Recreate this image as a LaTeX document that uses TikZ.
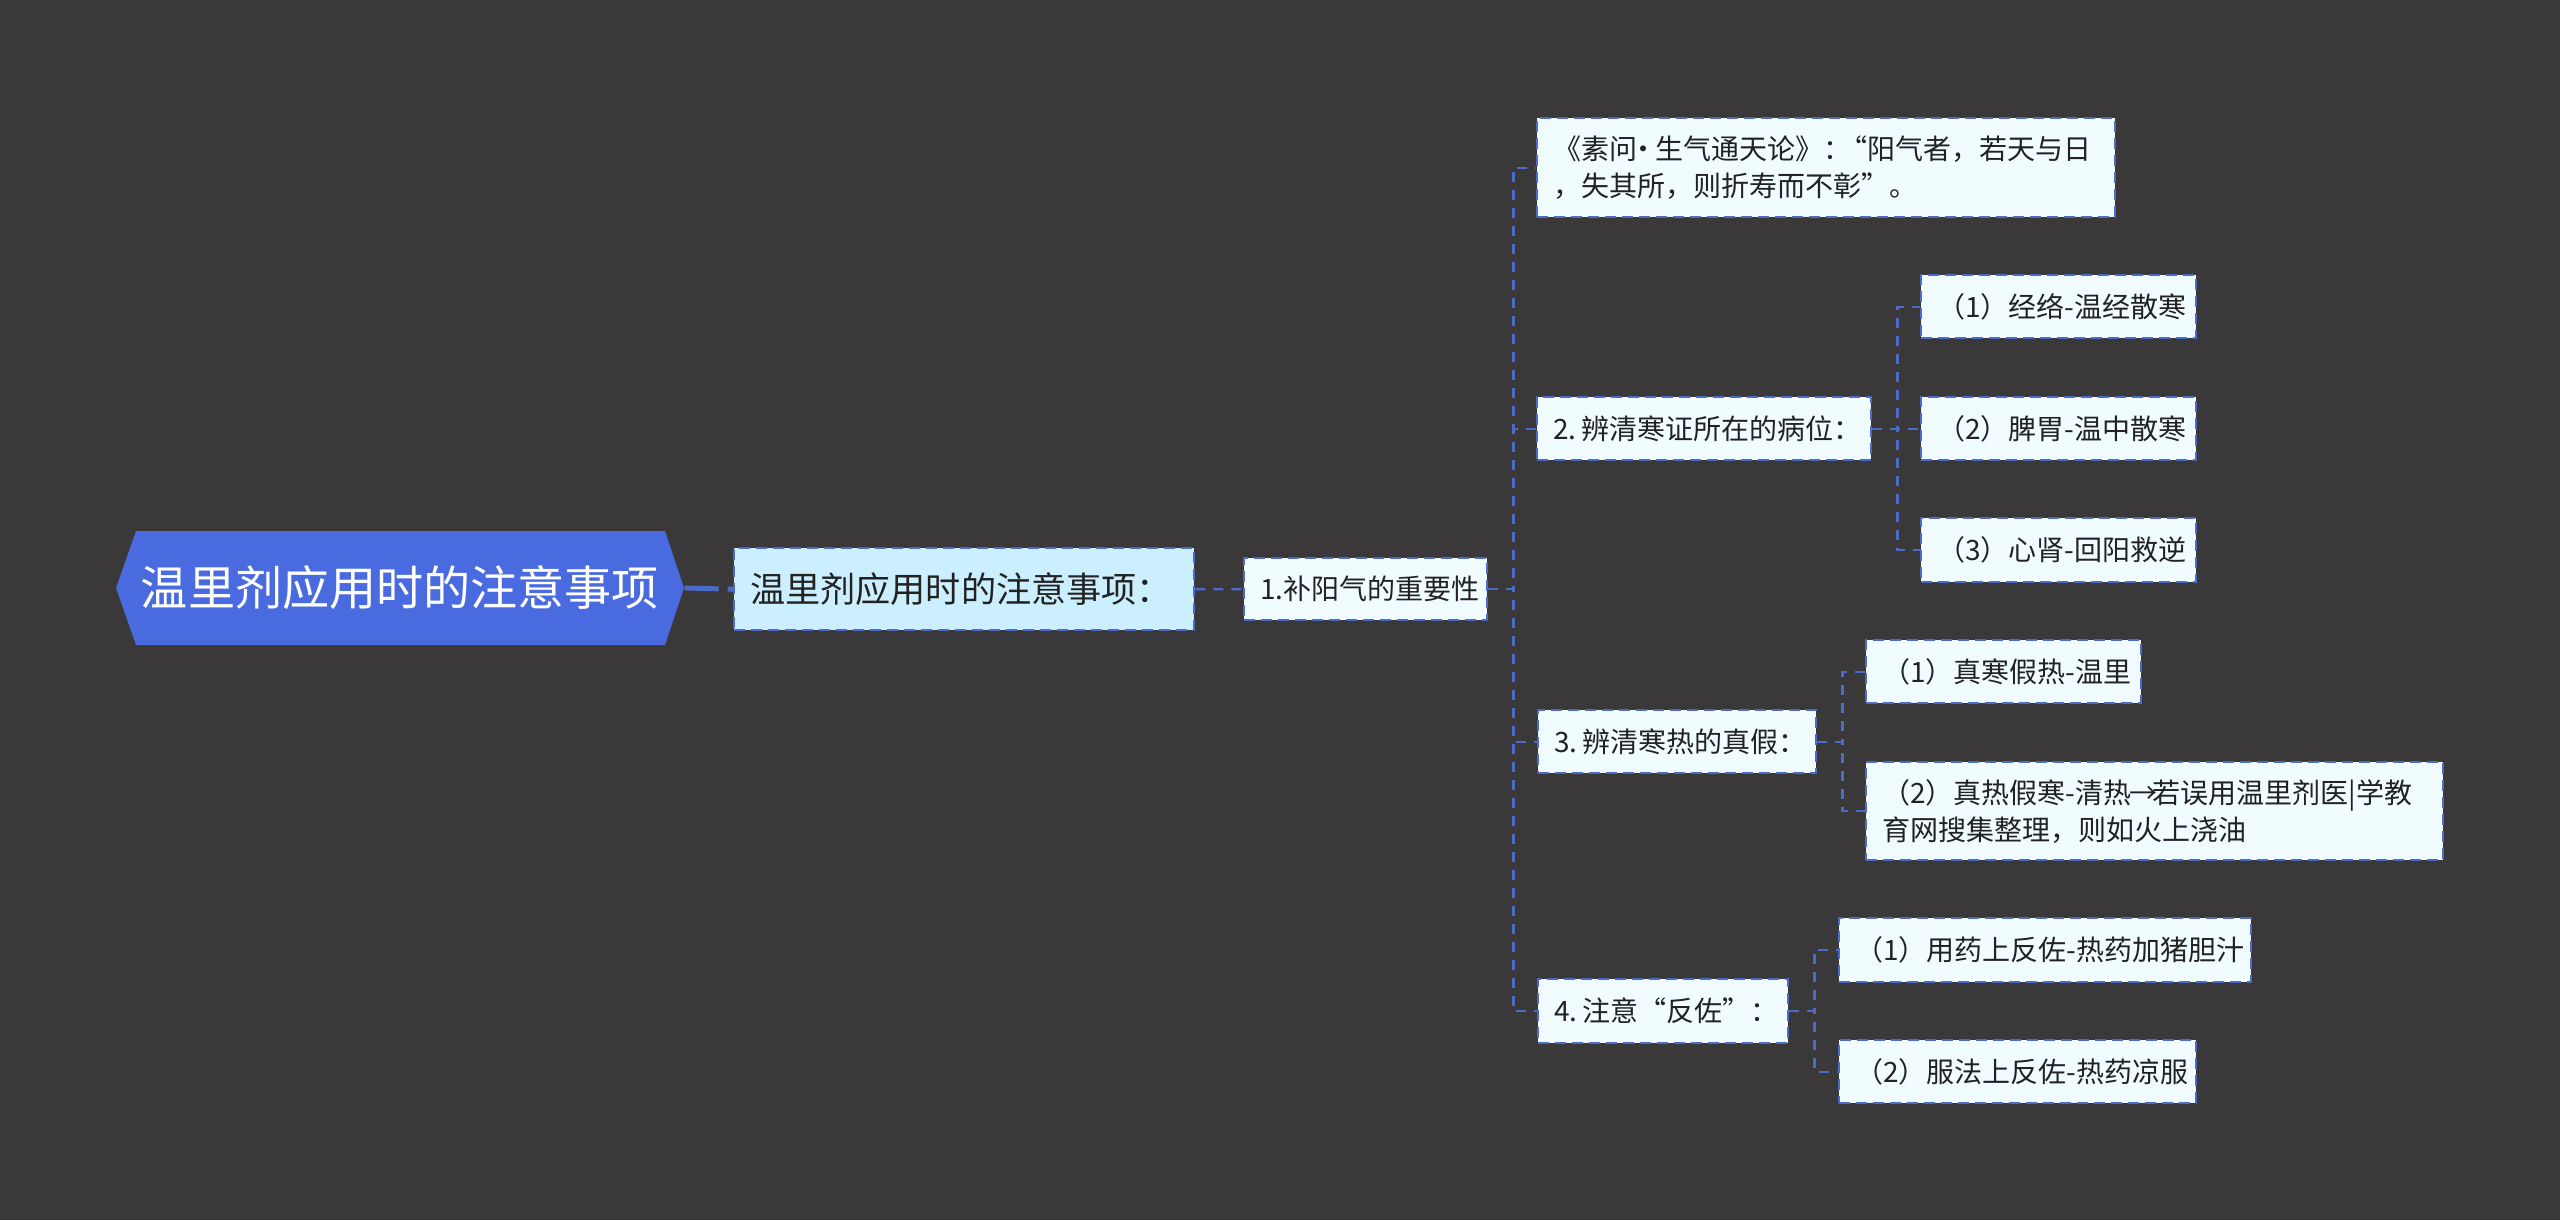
\documentclass[tikz,border=0pt]{standalone}
\usepackage{fontspec}
\setmainfont{Noto Sans CJK SC}
\definecolor{bgdark}{HTML}{3A3839}
\definecolor{linkblue}{HTML}{4A6BC8}
\definecolor{rootblue}{HTML}{4A6BE0}
\definecolor{subblue}{HTML}{CBEFFF}
\definecolor{leafwhite}{HTML}{F0FCFF}
\definecolor{inkdark}{HTML}{222222}
\tikzset{
	rootbox/.style={text=white, inner sep=0pt, minimum width=5.68cm, minimum height=1.14cm, font=\fontsize{13.4}{16}\selectfont},
	textbox/.style 2 args={anchor=north west, draw=linkblue, line width=0.7pt, dash pattern=on 0.11cm off 0.06cm, text=inkdark, align=left, inner xsep=0.16cm, inner ysep=0pt, text width=#1cm-0.32cm, minimum height=#2cm},
	leafbox/.style 2 args={textbox={#1}{#2}, fill=leafwhite, font=\fontsize{7.97}{10.53}\selectfont},
	subbox/.style 2 args={textbox={#1}{#2}, fill=subblue, font=\fontsize{10}{12}\selectfont},
	link/.style={draw=linkblue, line width=0.65pt, dash pattern=on 0.1cm off 0.08cm},
	rootlink/.style={draw=linkblue, line width=1.4pt, dash pattern=on 0.34cm off 0.09cm}
}
\begin{document}
\begin{tikzpicture}
		\fill[bgdark] (0, 0) rectangle (25.6, 12.2);
		\useasboundingbox (0, 0) rectangle (25.6, 12.2);
		\fill[rootblue] (1.16, 6.32) -- (1.36, 6.89) -- (6.65, 6.89) -- (6.84, 6.32) -- (6.65, 5.75) -- (1.36, 5.75) --cycle;
		\node[rootbox] (root) at (4.0, 6.32) {温里剂应用时的注意事项};
		\node[subbox={4.6}{0.82}] (topic) at (7.33, 6.73) {温里剂应用时的注意事项：};
		\node[leafbox={2.43}{0.62}] (yang) at (12.43, 6.63) {1.补阳气的重要性};
		\node[leafbox={5.78}{0.99}] (quote) at (15.36, 11.03) {《素问\kern-0.08cm ·\kern-0.02cm 生气通天论》：\kern-0.12cm “阳气者，若天与日\\，失其所，则折寿而不彰”。};
		\node[leafbox={3.34}{0.63}] (site) at (15.36, 8.24) {2.\kern0.05cm 辨清寒证所在的病位：};
		\node[leafbox={2.75}{0.63}] (siteA) at (19.2, 9.46) {\mbox{（1）经络-温经散寒}};
		\node[leafbox={2.75}{0.63}] (siteB) at (19.2, 8.24) {\mbox{（2）脾胃-温中散寒}};
		\node[leafbox={2.75}{0.64}] (siteC) at (19.2, 7.03) {\mbox{（3）心肾-回阳救逆}};
		\node[leafbox={2.78}{0.63}] (truth) at (15.37, 5.11) {3.\kern0.05cm 辨清寒热的真假：};
		\node[leafbox={2.75}{0.63}] (truthA) at (18.65, 5.81) {\mbox{（1）真寒假热-温里}};
		\node[leafbox={5.77}{0.98}] (truthB) at (18.65, 4.59) {\mbox{（2）真热假寒-清热\kern-0.02cm →\kern-0.05cm 若误用温里剂医|学教}\\育网搜集整理，则如火上浇油};
		\node[leafbox={2.5}{0.64}] (anti) at (15.37, 2.42) {4.\kern0.05cm 注意“反佐”：};
		\node[leafbox={4.12}{0.64}] (antiA) at (18.38, 3.03) {\mbox{（1）用药上反佐-热药加猪胆汁}};
		\node[leafbox={3.57}{0.63}] (antiB) at (18.38, 1.81) {\mbox{（2）服法上反佐-热药凉服}};
		\draw[rootlink] (root.east) -- (topic.west);
		\draw[link] (topic.east) -- (yang.west);
		\draw[link] (yang.east) -- ++(0.25, 0) |- (quote.west);
		\draw[link] (yang.east) -- ++(0.25, 0) |- (site.west);
		\draw[link] (yang.east) -- ++(0.25, 0) |- (truth.west);
		\draw[link] (yang.east) -- ++(0.25, 0) |- (anti.west);
		\draw[link] (site.east) -- ++(0.25, 0) |- (siteA.west);
		\draw[link] (site.east) -- (siteB.west);
		\draw[link] (site.east) -- ++(0.25, 0) |- (siteC.west);
		\draw[link] (truth.east) -- ++(0.25, 0) |- (truthA.west);
		\draw[link] (truth.east) -- ++(0.25, 0) |- (truthB.west);
		\draw[link] (anti.east) -- ++(0.25, 0) |- (antiA.west);
		\draw[link] (anti.east) -- ++(0.25, 0) |- (antiB.west);
	\end{tikzpicture}
\end{document}
